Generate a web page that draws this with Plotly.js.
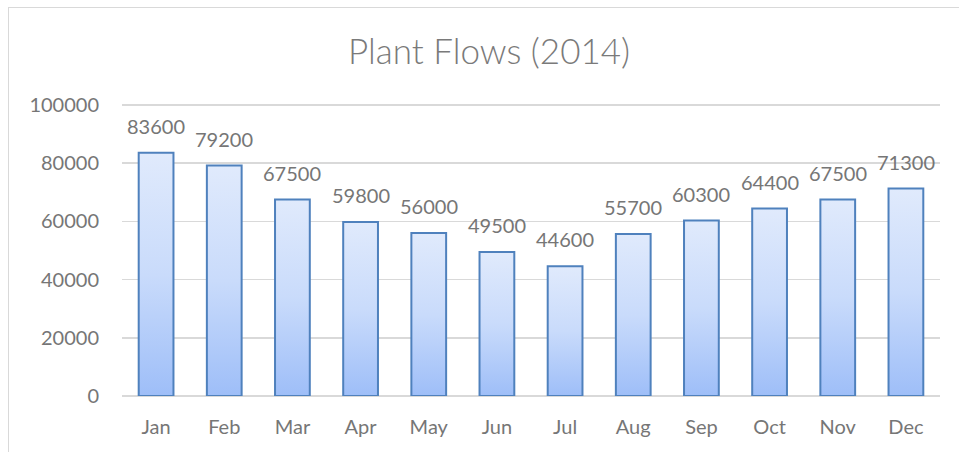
<!DOCTYPE html>
<html>
<head>
<meta charset="utf-8">
<script src="https://cdn.plot.ly/plotly-3.0.1.min.js"></script>
<style>
  html, body { margin: 0; padding: 0; background: #ffffff; }
  #frame { position: absolute; left: 8px; top: 7px; width: 1000px; height: 500px;
           border-left: 1px solid #d9d9d9; border-top: 1px solid #d9d9d9; }
  #chart { position: absolute; left: 0; top: 0; width: 959px; height: 452px; }
</style>
</head>
<body>
<div id="frame"></div>
<div id="chart"></div>
<script>
const months = ["Jan","Feb","Mar","Apr","May","Jun","Jul","Aug","Sep","Oct","Nov","Dec"];
const flows = [83600, 79200, 67500, 59800, 56000, 49500, 44600, 55700, 60300, 64400, 67500, 71300];
const yTicks = [0, 20000, 40000, 60000, 80000, 100000];
const chartTitle = "Plant Flows (2014)";

const textColor = "#767676";
const fontFam = "Lato, 'Open Sans', sans-serif";

const trace = {
  type: "bar",
  x: months,
  y: flows,
  marker: { color: "#bcd3fa", line: { color: "#4f81bd", width: 2 } },
  hoverinfo: "x+y"
};

const annotations = months.map((m, i) => ({
  x: m, y: flows[i], xref: "x", yref: "y",
  text: String(flows[i]), showarrow: false,
  yanchor: "bottom", yshift: 13,
  font: { family: fontFam, size: 20, color: textColor }
}));

const layout = {
  width: 959, height: 452,
  paper_bgcolor: "rgba(0,0,0,0)",
  plot_bgcolor: "rgba(0,0,0,0)",
  margin: { l: 122, r: 19, t: 103, b: 56 },
  title: { text: chartTitle, x: 0.51, xref: "container", y: 0.885, yref: "container",
           xanchor: "center", yanchor: "middle",
           font: { family: fontFam, size: 35, color: "#7a7a7a", weight: 300 } },
  bargap: 0.49,
  showlegend: false,
  xaxis: { type: "category", showgrid: false, showline: false, zeroline: false,
           ticks: "", ticklabelstandoff: 17,
           tickfont: { family: fontFam, size: 20, color: textColor } },
  yaxis: { range: [0, 100700], tickvals: yTicks, ticktext: yTicks.map(String),
           showgrid: true, gridcolor: "#d9d9d9", gridwidth: 1.5,
           zeroline: true, zerolinecolor: "#d9d9d9", zerolinewidth: 1.5,
           ticks: "", ticklabelstandoff: 22,
           tickfont: { family: fontFam, size: 20, color: textColor } },
  annotations: annotations
};

function applyGradient(gd) {
  const svg = gd.querySelector("svg.main-svg");
  if (!svg) return;
  let defs = svg.querySelector("defs");
  if (!defs) { defs = document.createElementNS("http://www.w3.org/2000/svg", "defs"); svg.insertBefore(defs, svg.firstChild); }
  if (!svg.querySelector("#barGrad")) {
    const g = document.createElementNS("http://www.w3.org/2000/svg", "linearGradient");
    g.setAttribute("id", "barGrad");
    g.setAttribute("x1", "0"); g.setAttribute("y1", "0");
    g.setAttribute("x2", "0"); g.setAttribute("y2", "1");
    [["0", "#e0eafc"], ["0.5", "#c9dbfb"], ["1", "#9ebef8"]].forEach(([o, c]) => {
      const s = document.createElementNS("http://www.w3.org/2000/svg", "stop");
      s.setAttribute("offset", o); s.setAttribute("stop-color", c);
      g.appendChild(s);
    });
    defs.appendChild(g);
  }
  gd.querySelectorAll(".barlayer .point path").forEach(p => {
    p.style.fill = "url(#barGrad)";
    p.style.fillOpacity = "1";
  });
}

const gd = document.getElementById("chart");
Plotly.newPlot(gd, [trace], layout, { displayModeBar: false, staticPlot: true }).then(() => {
  applyGradient(gd);
  gd.on && gd.on("plotly_afterplot", () => applyGradient(gd));
});
</script>
</body>
</html>
